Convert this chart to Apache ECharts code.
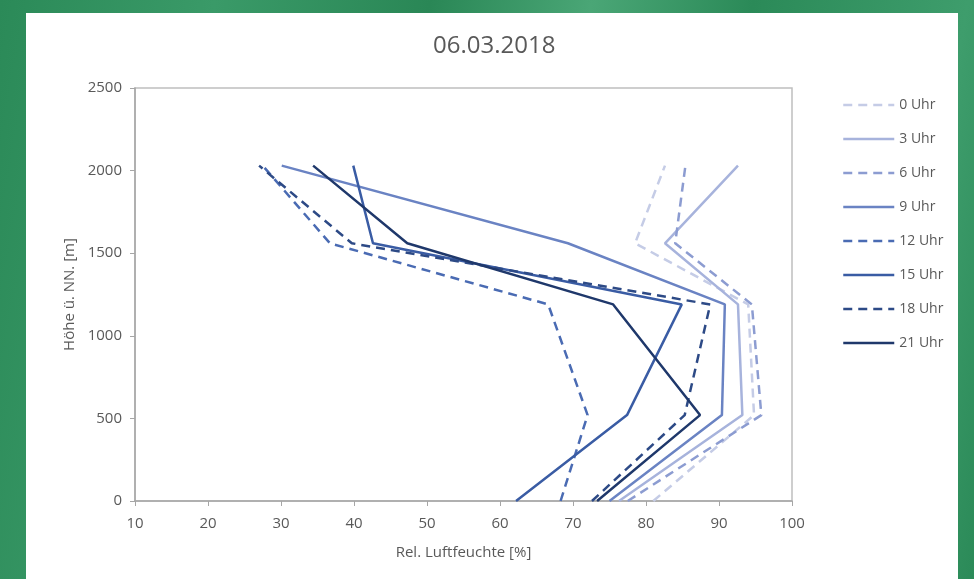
<!DOCTYPE html>
<html>
<head>
<meta charset="utf-8">
<script src="https://cdn.jsdelivr.net/npm/echarts@6/dist/echarts.min.js"></script>
<style>
  html, body { margin: 0; padding: 0; }
  #chart {
    width: 974px; height: 579px;
    background: linear-gradient(100deg, #2b8a58 0%, #3a9a68 20%, #2a8756 40%, #4aa676 55%, #2b8a58 70%, #3e9d6c 90%, #2b8a58 100%);
  }
</style>
</head>
<body>
<div id="chart"></div>
<script>
  // Höhe ü. NN. [m] der Messpunkte (von unten nach oben)
  var heights = [0, 520, 1190, 1560, 2030]
  // Rel. Luftfeuchte [%] je Uhrzeit
  var h0 = [81, 94.8, 94, 78.5, 82.6]
  var h3 = [76.3, 93.2, 92.6, 82.6, 92.6]
  var h6 = [77.5, 95.8, 94.5, 84, 85.4]
  var h9 = [75, 90.4, 90.8, 69.3, 30.1]
  var h12 = [68.3, 72, 66.6, 36.7, 27.5]
  var h15 = [62.2, 77.4, 84.9, 42.6, 39.9]
  var h18 = [72.6, 85.3, 88.8, 39.7, 27]
  var h21 = [73.3, 87.4, 75.5, 47.3, 34.4]
  var names = ['0 Uhr', '3 Uhr', '6 Uhr', '9 Uhr', '12 Uhr', '15 Uhr', '18 Uhr', '21 Uhr']
  var values = [h0, h3, h6, h9, h12, h15, h18, h21]

  var colors = ['#c5cce6', '#a7b3dc', '#8c9cd1', '#6a83c3', '#4a6bb3', '#3a5ca4', '#2d4a86', '#1f386b']
  var dashed = [true, false, true, false, true, false, true, false]
  var fontFamily = '"Open Sans", sans-serif'

  var myChart = echarts.init(document.getElementById('chart'))

  var series = names.map(function (n, i) {
    return {
      name: n,
      type: 'line',
      symbol: 'none',
      smooth: false,
      data: values[i].map(function (v, k) { return [v, heights[k]] }),
      lineStyle: {
        color: colors[i],
        width: 2.5,
        type: dashed[i] ? [9, 6] : 'solid'
      },
      itemStyle: { color: colors[i] },
      z: 2 + i
    }
  })

  myChart.setOption({
    backgroundColor: 'transparent',
    animation: false,
    textStyle: { fontFamily: fontFamily },
    graphic: [{
      type: 'rect',
      shape: { x: 26, y: 13, width: 932, height: 570 },
      style: { fill: '#ffffff' },
      z: -10
    }],
    title: {
      text: '06.03.2018',
      left: 428,
      top: 29,
      textStyle: { color: '#595959', fontSize: 24, fontWeight: 'normal', fontFamily: fontFamily }
    },
    legend: {
      orient: 'vertical',
      left: 837,
      top: 93,
      itemWidth: 51,
      itemHeight: 14,
      itemGap: 20,
      itemStyle: { opacity: 0 },
      lineStyle: { width: 2.5 },
      textStyle: { color: '#595959', fontSize: 14, fontFamily: fontFamily },
      data: names
    },
    grid: {
      left: 135,
      right: 182,
      top: 88,
      bottom: 78,
      show: true,
      borderColor: '#bfbfbf',
      borderWidth: 1.5,
      backgroundColor: 'transparent'
    },
    xAxis: {
      type: 'value',
      min: 10,
      max: 100,
      interval: 10,
      name: 'Rel. Luftfeuchte [%]',
      nameLocation: 'middle',
      nameGap: 44,
      nameTextStyle: { color: '#595959', fontSize: 15, fontFamily: fontFamily },
      axisLine: { show: true, lineStyle: { color: '#a6a6a6', width: 1.5 } },
      axisTick: { show: true, length: 5, lineStyle: { color: '#a6a6a6' } },
      axisLabel: { color: '#595959', fontSize: 15, margin: 15, fontFamily: fontFamily },
      splitLine: { show: false }
    },
    yAxis: {
      type: 'value',
      min: 0,
      max: 2500,
      interval: 500,
      name: 'Höhe ü. NN. [m]',
      nameLocation: 'middle',
      nameRotate: 90,
      nameGap: 58,
      nameTextStyle: { color: '#595959', fontSize: 15, fontFamily: fontFamily },
      axisLine: { show: true, lineStyle: { color: '#a6a6a6', width: 1.5 } },
      axisTick: { show: true, length: 5, lineStyle: { color: '#a6a6a6' } },
      axisLabel: {
        color: '#595959', fontSize: 15, margin: 13, fontFamily: fontFamily,
        formatter: function (v) { return String(v) }
      },
      splitLine: { show: false }
    },
    series: series
  })
</script>
</body>
</html>
